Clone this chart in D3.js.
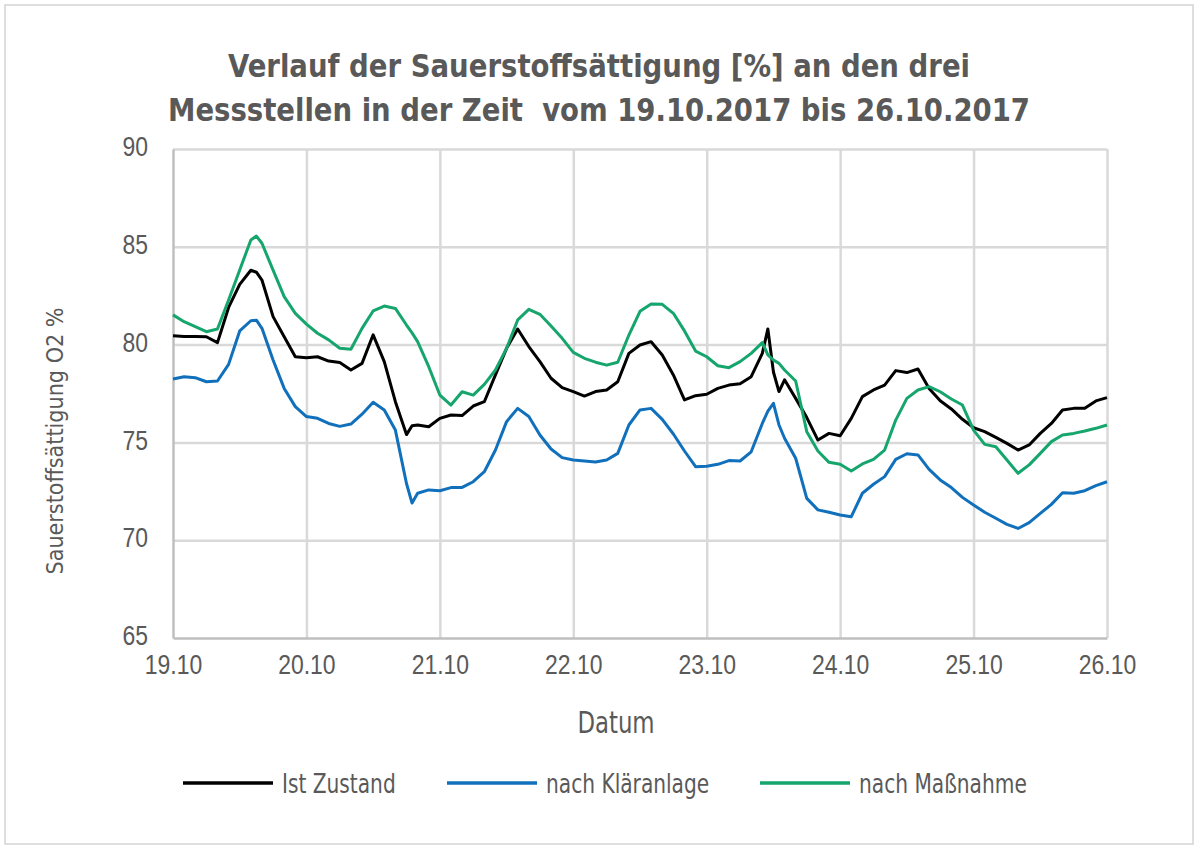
<!DOCTYPE html>
<html>
<head>
<meta charset="utf-8">
<script src="https://cdn.jsdelivr.net/npm/d3@7"></script>
<style>
  body { margin: 0; background: #fff; }
  svg { display: block; font-family: "Liberation Sans Narrow", "DejaVu Sans Condensed", "Open Sans", sans-serif; }
</style>
</head>
<body>
<svg id="chart" width="1200" height="851"></svg>
<script>
// Messzeitpunkte in Stunden ab 19.10. 00:00
const hours = [0, 2, 4, 6, 8, 10, 12, 14, 15, 16, 18, 20, 22, 24, 26, 28, 30, 32, 34, 36, 38, 40,
  42, 43, 44, 46, 48, 50, 52, 54, 56, 58, 60, 62, 64, 66, 68, 70, 72, 74, 76, 78, 80, 82, 84,
  86, 88, 90, 92, 94, 96, 98, 100, 102, 104, 106, 107, 108, 109, 110, 112, 114, 116, 118, 120,
  122, 124, 126, 128, 130, 132, 134, 136, 138, 140, 142, 144, 146, 148, 150, 152, 154, 156,
  158, 160, 162, 164, 166, 168];

const istZustand = [80.45, 80.42, 80.42, 80.40, 80.10, 81.90, 83.08, 83.80, 83.70, 83.30, 81.43,
  80.40, 79.38, 79.33, 79.38, 79.16, 79.08, 78.70, 79.04, 80.50, 79.13, 77.08, 75.40, 75.85,
  75.89, 75.80, 76.23, 76.40, 76.37, 76.86, 77.08, 78.45, 79.81, 80.80, 79.90, 79.13, 78.28,
  77.80, 77.60, 77.37, 77.60, 77.68, 78.10, 79.55, 79.98, 80.15, 79.47, 78.45, 77.17, 77.39,
  77.46, 77.76, 77.93, 78.00, 78.36, 79.55, 80.80, 78.60, 77.60, 78.20, 77.25, 76.27, 75.12,
  75.46, 75.34, 76.23, 77.34, 77.68, 77.93, 78.67, 78.57, 78.75, 77.76, 77.13, 76.71, 76.18,
  75.75, 75.55, 75.26, 74.95, 74.61, 74.87, 75.46, 75.97, 76.66, 76.74, 76.74, 77.12, 77.29];

const nachKlaeranlage = [78.24, 78.36, 78.31, 78.10, 78.14, 78.99, 80.70, 81.22, 81.25, 80.83,
  79.21, 77.76, 76.83, 76.32, 76.23, 75.97, 75.82, 75.94, 76.44, 77.05, 76.66, 75.63, 72.90,
  71.90, 72.40, 72.57, 72.53, 72.69, 72.70, 72.99, 73.50, 74.61, 76.06, 76.74, 76.32, 75.38,
  74.66, 74.22, 74.10, 74.05, 74.00, 74.10, 74.44, 75.89, 76.66, 76.74, 76.18, 75.43, 74.56,
  73.76, 73.78, 73.88, 74.07, 74.05, 74.52, 75.97, 76.60, 77.00, 75.89, 75.21, 74.19, 72.14,
  71.55, 71.43, 71.29, 71.20, 72.40, 72.86, 73.25, 74.13, 74.42, 74.36, 73.62, 73.08, 72.69,
  72.19, 71.80, 71.43, 71.12, 70.81, 70.60, 70.90, 71.37, 71.83, 72.43, 72.40, 72.53, 72.79, 72.99];

const nachMassnahme = [81.52, 81.17, 80.92, 80.66, 80.80, 82.28, 83.81, 85.35, 85.55, 85.18,
  83.81, 82.45, 81.60, 81.05, 80.58, 80.24, 79.81, 79.76, 80.83, 81.72, 81.97, 81.85, 81.00,
  80.60, 80.15, 78.87, 77.42, 76.91, 77.59, 77.42, 77.97, 78.70, 79.81, 81.26, 81.80, 81.55,
  80.95, 80.32, 79.60, 79.30, 79.10, 78.95, 79.10, 80.49, 81.70, 82.08, 82.06, 81.60, 80.70,
  79.67, 79.38, 78.92, 78.82, 79.13, 79.55, 80.10, 79.47, 79.21, 79.04, 78.70, 78.14, 75.55,
  74.56, 73.98, 73.88, 73.54, 73.90, 74.13, 74.61, 76.14, 77.25, 77.68, 77.85, 77.59, 77.22,
  76.91, 75.63, 74.90, 74.78, 74.10, 73.42, 73.85, 74.44, 75.04, 75.38, 75.46, 75.58, 75.72, 75.89];

const dayLabels = ["19.10", "20.10", "21.10", "22.10", "23.10", "24.10", "25.10", "26.10"];
const yTicks = [65, 70, 75, 80, 85, 90];
const seriesNames = ["Ist Zustand", "nach Kläranlage", "nach Maßnahme"];
const seriesColors = ["#000000", "#1070bb", "#16a56c"];

const titleLines = ["Verlauf der Sauerstoffsättigung [%] an den drei",
  "Messstellen in der Zeit  vom 19.10.2017 bis 26.10.2017"];

// Layout
const W = 1200, H = 851;
const margin = { top: 149, right: 93, bottom: 213, left: 173 };
const width = W - margin.left - margin.right;
const height = H - margin.top - margin.bottom;
const textColor = "#595959";
const gridColor = "#d9d9d9";

// the original uses a narrow font, squeeze the fallback font to the same width
function narrow(sel, factor) {
  sel.each(function () {
    const w = this.getComputedTextLength();
    d3.select(this)
      .attr("textLength", (w * factor).toFixed(1))
      .attr("lengthAdjust", "spacingAndGlyphs");
  });
}

const svg = d3.select("#chart");

svg.append("rect")
  .attr("x", 5).attr("y", 5)
  .attr("width", W - 12).attr("height", H - 12)
  .attr("fill", "#fff")
  .attr("stroke", "#d4d4d4")
  .attr("stroke-width", 1.5);

const titleWidths = [742, 862];
titleLines.forEach((t, i) => {
  svg.append("text")
    .attr("x", 599)
    .attr("y", 77 + i * 44)
    .attr("text-anchor", "middle")
    .attr("fill", textColor)
    .attr("font-size", 32)
    .attr("font-weight", "bold")
    .style("white-space", "pre")
    .attr("textLength", titleWidths[i])
    .attr("lengthAdjust", "spacingAndGlyphs")
    .text(t);
});

const g = svg.append("g")
  .attr("transform", `translate(${margin.left},${margin.top})`);

const x = d3.scaleLinear().domain([0, 168]).range([0, width]);
const y = d3.scaleLinear().domain([65, 90]).range([height, 0]);

const dayHours = dayLabels.map((d, i) => i * 24);

// Gitternetz
g.append("g")
  .call(d3.axisLeft(y).tickValues(yTicks.slice(1)).tickSize(-width).tickFormat(""))
  .call(s => s.select(".domain").remove())
  .selectAll("line")
  .attr("stroke", gridColor)
  .attr("stroke-width", 2.5);

g.append("g")
  .attr("transform", `translate(0,${height})`)
  .call(d3.axisBottom(x).tickValues(dayHours.slice(1)).tickSize(-height).tickFormat(""))
  .call(s => s.select(".domain").remove())
  .selectAll("line")
  .attr("stroke", gridColor)
  .attr("stroke-width", 2.5);

// Achsen
const yAxis = g.append("g")
  .call(d3.axisLeft(y).tickValues(yTicks).tickSize(0).tickPadding(25));
yAxis.select(".domain").attr("stroke", "#bfbfbf").attr("stroke-width", 2.5);
yAxis.selectAll("text")
  .attr("fill", textColor).attr("font-size", 27).attr("font-family", "inherit")
  .attr("dy", "0.25em")
  .call(narrow, 0.85);

const xAxis = g.append("g")
  .attr("transform", `translate(0,${height})`)
  .call(d3.axisBottom(x).tickValues(dayHours).tickSize(0).tickPadding(17)
    .tickFormat((d, i) => dayLabels[i]));
xAxis.select(".domain").attr("stroke", "#bfbfbf").attr("stroke-width", 2.5);
xAxis.selectAll("text")
  .attr("fill", textColor).attr("font-size", 27).attr("font-family", "inherit")
  .call(narrow, 0.85);

// Achsentitel
svg.append("text")
  .attr("x", 616).attr("y", 733)
  .attr("text-anchor", "middle")
  .attr("fill", textColor)
  .attr("font-size", 30)
  .text("Datum")
  .call(narrow, 0.845);

svg.append("text")
  .attr("transform", "translate(63,441) rotate(-90)")
  .attr("text-anchor", "middle")
  .attr("fill", textColor)
  .attr("font-size", 23)
  .text("Sauerstoffsättigung O2 %")
  .attr("textLength", 267)
  .attr("lengthAdjust", "spacingAndGlyphs");

// Linien
const allSeries = [istZustand, nachKlaeranlage, nachMassnahme];
const line = d3.line()
  .x((d, i) => x(hours[i]))
  .y(d => y(d));

g.selectAll(".series")
  .data(allSeries)
  .enter()
  .append("path")
  .attr("class", "series")
  .attr("fill", "none")
  .attr("stroke", (d, i) => seriesColors[i])
  .attr("stroke-width", 3)
  .attr("stroke-linejoin", "round")
  .attr("d", line);

// Legende
const legendX = [183, 447, 760];
const legend = svg.append("g").attr("transform", "translate(0,783)");
seriesNames.forEach((name, i) => {
  legend.append("line")
    .attr("x1", legendX[i]).attr("x2", legendX[i] + 90)
    .attr("y1", 0).attr("y2", 0)
    .attr("stroke", seriesColors[i])
    .attr("stroke-width", 3.5);
  legend.append("text")
    .attr("x", legendX[i] + 99)
    .attr("y", 10)
    .attr("fill", textColor)
    .attr("font-size", 27)
    .text(name)
    .call(narrow, 0.83);
});
</script>
</body>
</html>
